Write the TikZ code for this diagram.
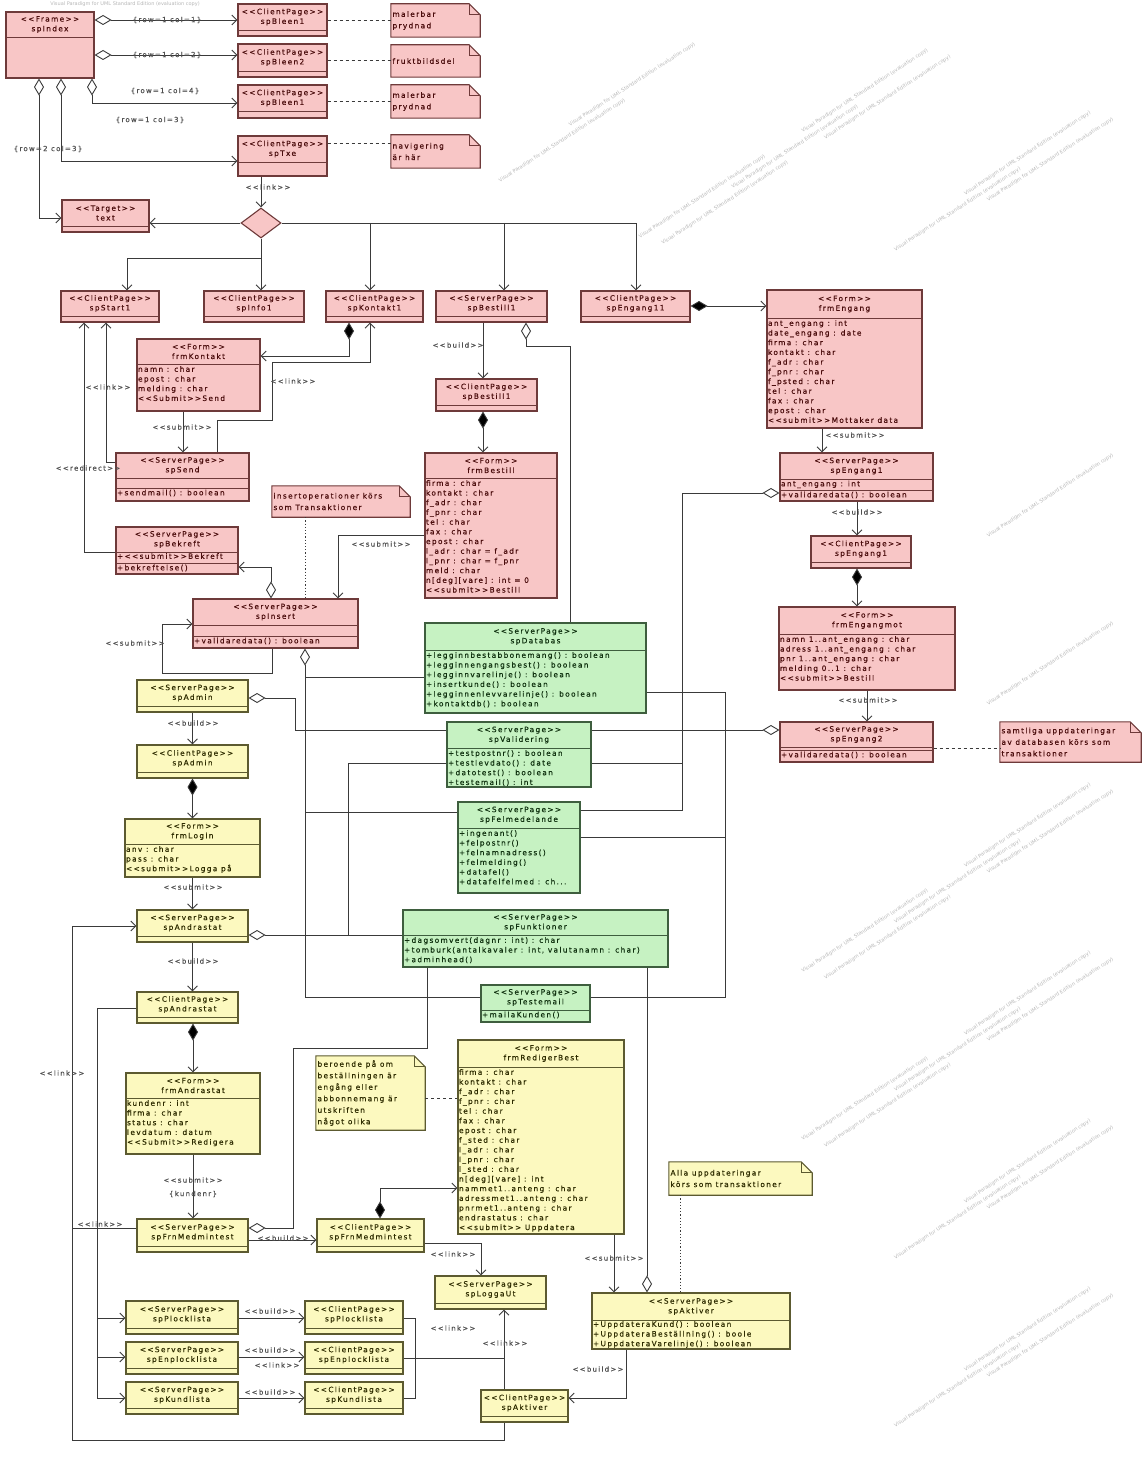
\documentclass[tikz,border=0pt]{standalone}
\usepackage{fontspec}
\setmainfont{DejaVu Sans}[LetterSpace=18, Ligatures=TeXOff, FakeBold=0.3]
\newfontfamily\wmfont{DejaVu Sans}[Ligatures=TeXOff]
\usetikzlibrary{arrows.meta,shapes.geometric,fit,calc}

\definecolor{pkfill}{HTML}{F8C6C6}
\definecolor{pkline}{HTML}{6E3A3A}
\definecolor{pktext}{HTML}{4A0C0C}
\definecolor{ylfill}{HTML}{FCF9BF}
\definecolor{ylline}{HTML}{5C5A30}
\definecolor{yltext}{HTML}{2E2C00}
\definecolor{grfill}{HTML}{C6F2C2}
\definecolor{grline}{HTML}{3E5E3E}
\definecolor{grtext}{HTML}{0E300E}
\definecolor{conn}{HTML}{3A3A3A}
\definecolor{lblcol}{HTML}{505050}

\newcommand\boxfont{\fontsize{7.4}{9.7}\selectfont}
\newcommand\notefont{\fontsize{7.4}{11.5}\selectfont}
\newcommand\lblfont{\fontsize{7}{8.5}\selectfont}
\newcommand\wmphrase{Visual Paradigm for UML Standard Edition (evaluation copy)}

% class box: name, style, x1, y1, x2, y2
\newcommand\ubox[6]{\node[#2, fit={(#3,#4) (#5,#6)}, inner sep=0pt] (#1) {};}
% header text centred at given y
\newcommand\uhead[3]{\node[hdtext] (#1-h) at (#1.north |- 0,#2) {#3};}
% compartment separator
\newcommand\usep[2]{\draw[sepline] (#1.west |- 0,#2) -- (#1.east |- 0,#2);}
% compartment content: name, suffix, top y, lines
\newcommand\uattr[4]{\node[attext, anchor=north west, xshift=1.4pt] (#1-#2) at (#1.west |- 0,#3) {#4};}
% note with folded corner: name, x1, y1, x2, y2, text
\newcommand\unote[6]{%
  \node[fit={(#2,#3) (#4,#5)}, inner sep=0pt] (#1) {};
  \draw[notebox] (#1.south west) -- (#1.north west) -- ([xshift=-11pt]#1.north east)
     -- ([yshift=-11pt]#1.north east) -- (#1.south east) -- cycle;
  \draw[noteline] ([xshift=-11pt]#1.north east) -- ([xshift=-11pt,yshift=-11pt]#1.north east)
     -- ([yshift=-11pt]#1.north east);
  \node[notetext, anchor=west, xshift=1.5pt] (#1-t) at (#1.west) {#6};}

\tikzset{
  abr/.tip={Straight Barb[length=5pt,width=10pt]},
  ahd/.tip={Diamond[fill=white,length=17pt,width=10pt]},
  afd/.tip={Diamond[fill=black,length=17pt,width=10pt]},
  hdtext/.style={align=center, inner sep=0pt, font=\boxfont},
  attext/.style={align=left, inner xsep=0pt, inner ysep=2pt, font=\boxfont},
  notetext/.style={align=left, inner sep=0pt, font=\notefont},
  lbl/.style={font=\lblfont, text=lblcol, inner sep=0.5pt},
  dashline/.style={dash pattern=on 3pt off 3pt},
  dotline/.style={dash pattern=on 1.2pt off 2pt},
  pk/.style={every node/.append style={text=pktext},
    cbox/.style={draw=pkline, fill=pkfill, line width=1.1pt},
    sepline/.style={draw=pkline, line width=0.9pt},
    notebox/.style={draw=pkline, fill=pkfill, line width=1.1pt},
    noteline/.style={draw=pkline, line width=0.8pt}},
  yl/.style={every node/.append style={text=yltext},
    cbox/.style={draw=ylline, fill=ylfill, line width=1.1pt},
    sepline/.style={draw=ylline, line width=0.9pt},
    notebox/.style={draw=ylline, fill=ylfill, line width=1.1pt},
    noteline/.style={draw=ylline, line width=0.8pt}},
  gr/.style={every node/.append style={text=grtext},
    cbox/.style={draw=grline, fill=grfill, line width=1.1pt},
    sepline/.style={draw=grline, line width=0.9pt}},
  decision/.style={diamond, draw=pkline, fill=pkfill, line width=1.1pt,
    minimum width=40pt, minimum height=30pt, inner sep=0pt},
  wm/.style={rotate=33, anchor=center, font=\wmfont\fontsize{5}{6}\selectfont,
    text=black!28, inner sep=0pt}
}

\begin{document}
\begin{tikzpicture}[x=1pt,y=-1pt]
\useasboundingbox (0,0) rectangle (1146,1463);
\fill[white] (0,0) rectangle (1146,1463);

%%% ---------------- evaluation watermark in the free areas ----------------
\node[wm, rotate=-33] (wmtop) at (125,4) {\wmphrase};
\foreach \k in {0,...,44} {
  \foreach \j in {0,...,8} {
    \pgfmathsetmacro\cx{-30-mod(\k,3)*70+(\j+0.5)*194*cos(33)}
    \pgfmathsetmacro\cy{\k*56-(\j+0.5)*194*sin(33)}
    \pgfmathtruncatemacro\wmok{
      ((\cx>561)&&(\cx<1070)&&(\cy>50)&&(\cy<236)) ||
      ((\cx>1036)&&(\cx<1070)&&(\cy>335)&&(\cy<665)) ||
      ((\cx>811)&&(\cx<1070)&&(\cy>818)&&(\cy<1110)) ||
      ((\cx>891)&&(\cx<1070)&&(\cy>1110)&&(\cy<1413)) ||
      ((\cx>708)&&(\cx<1070)&&(\cy>1402)&&(\cy<1413))}
    \ifnum\wmok=1
      \node[wm] (wm-\k-\j) at (\cx,\cy) {\wmphrase};
    \fi
  }
}

%%% ---------------- pink part: start pages ----------------
\begin{scope}[pk]
\ubox{spIndex}{cbox}{6}{12}{94}{78}
\uhead{spIndex}{24.5}{<<Frame>>\\spIndex}
\usep{spIndex}{37}

\ubox{spBleenA}{cbox}{238}{4}{327}{36}
\uhead{spBleenA}{17}{<<ClientPage>>\\spBleen1}
\usep{spBleenA}{30}
\ubox{spBleenB}{cbox}{238}{44}{327}{77}
\uhead{spBleenB}{57.5}{<<ClientPage>>\\spBleen2}
\usep{spBleenB}{71}
\ubox{spBleenC}{cbox}{238}{85}{327}{118}
\uhead{spBleenC}{98}{<<ClientPage>>\\spBleen1}
\usep{spBleenC}{111}
\ubox{spTxe}{cbox}{238}{136}{327}{176}
\uhead{spTxe}{149}{<<ClientPage>>\\spTxe}
\usep{spTxe}{162}

\unote{noteA}{391}{4}{480}{37}{malerbar\\prydnad}
\unote{noteB}{391}{45}{480}{77}{fruktbildsdel}
\unote{noteC}{391}{85}{480}{118}{malerbar\\prydnad}
\unote{noteD}{391}{135}{480}{168}{navigering\\är här}

\ubox{Target}{cbox}{62}{200}{149}{232}
\uhead{Target}{213}{<<Target>>\\text}
\usep{Target}{226}

\node[decision] (dec) at (261,223) {};

\ubox{spStart1}{cbox}{61}{291}{159}{322}
\uhead{spStart1}{303.5}{<<ClientPage>>\\spStart1}
\usep{spStart1}{316}
\ubox{spInfo1}{cbox}{204}{291}{304}{322}
\uhead{spInfo1}{303.5}{<<ClientPage>>\\spInfo1}
\usep{spInfo1}{316}
\ubox{spKontakt1}{cbox}{326}{291}{423}{322}
\uhead{spKontakt1}{303.5}{<<ClientPage>>\\spKontakt1}
\usep{spKontakt1}{316}
\ubox{spBestillS}{cbox}{436}{291}{547}{322}
\uhead{spBestillS}{303.5}{<<ServerPage>>\\spBestill1}
\usep{spBestillS}{316}
\ubox{spEngang11}{cbox}{581}{291}{690}{322}
\uhead{spEngang11}{303.5}{<<ClientPage>>\\spEngang11}
\usep{spEngang11}{316}

\ubox{frmEngang}{cbox}{767}{290}{922}{428}
\uhead{frmEngang}{304}{<<Form>>\\frmEngang}
\usep{frmEngang}{318}
\uattr{frmEngang}{a}{318}{ant\_engang : int\\date\_engang : date\\firma : char\\kontakt : char\\f\_adr : char\\f\_pnr : char\\f\_psted : char\\tel : char\\fax : char\\epost : char\\<<submit>>Mottaker data}

\ubox{frmKontakt}{cbox}{137}{339}{260}{411}
\uhead{frmKontakt}{351.5}{<<Form>>\\frmKontakt}
\usep{frmKontakt}{364}
\uattr{frmKontakt}{a}{364}{namn : char\\epost : char\\melding : char\\<<Submit>>Send}

\ubox{spSend}{cbox}{116}{453}{249}{501}
\uhead{spSend}{465.5}{<<ServerPage>>\\spSend}
\usep{spSend}{478}
\usep{spSend}{488}
\uattr{spSend}{o}{487.5}{+sendmail() : boolean}

\ubox{spBekreft}{cbox}{116}{527}{238}{574}
\uhead{spBekreft}{539.5}{<<ServerPage>>\\spBekreft}
\usep{spBekreft}{552}
\uattr{spBekreft}{a}{551}{+<<submit>>Bekreft}
\usep{spBekreft}{563}
\uattr{spBekreft}{o}{562.5}{+bekreftelse()}

\unote{noteIns}{272}{486}{410}{517}{insertoperationer körs\\som Transaktioner}

\ubox{spInsert}{cbox}{193}{599}{358}{648}
\uhead{spInsert}{612}{<<ServerPage>>\\spInsert}
\usep{spInsert}{625}
\usep{spInsert}{636}
\uattr{spInsert}{o}{635.5}{+validaredata() : boolean}

\ubox{spBestillC}{cbox}{436}{379}{537}{411}
\uhead{spBestillC}{392}{<<ClientPage>>\\spBestill1}
\usep{spBestillC}{405}

\ubox{frmBestill}{cbox}{425}{453}{557}{598}
\uhead{frmBestill}{465.5}{<<Form>>\\frmBestill}
\usep{frmBestill}{478}
\uattr{frmBestill}{a}{478}{firma : char\\kontakt : char\\f\_adr : char\\f\_pnr : char\\tel : char\\fax : char\\epost : char\\l\_adr : char = f\_adr\\l\_pnr : char = f\_pnr\\meld : char\\n[deg][vare] : int = 0\\<<submit>>Bestill}

\ubox{spEngangS}{cbox}{780}{453}{933}{501}
\uhead{spEngangS}{466}{<<ServerPage>>\\spEngang1}
\usep{spEngangS}{479}
\uattr{spEngangS}{a}{478.5}{ant\_engang : int}
\usep{spEngangS}{490}
\uattr{spEngangS}{o}{489.5}{+validaredata() : boolean}

\ubox{spEngangC}{cbox}{811}{536}{911}{568}
\uhead{spEngangC}{549}{<<ClientPage>>\\spEngang1}
\usep{spEngangC}{562}

\ubox{frmEngangmot}{cbox}{779}{607}{955}{690}
\uhead{frmEngangmot}{620.5}{<<Form>>\\frmEngangmot}
\usep{frmEngangmot}{634}
\uattr{frmEngangmot}{a}{634}{namn 1..ant\_engang : char\\adress 1..ant\_engang : char\\pnr 1..ant\_engang : char\\melding 0..1 : char\\<<submit>>Bestill}

\ubox{spEngang2}{cbox}{780}{722}{933}{762}
\uhead{spEngang2}{734.5}{<<ServerPage>>\\spEngang2}
\usep{spEngang2}{747}
\usep{spEngang2}{750}
\uattr{spEngang2}{o}{749.5}{+validaredata() : boolean}

\unote{noteSam}{1000}{722}{1141}{762}{samtliga uppdateringar\\av databasen körs som\\transaktioner}
\end{scope}

%%% ---------------- green part: shared server pages ----------------
\begin{scope}[gr]
\ubox{spDatabas}{cbox}{425}{623}{646}{713}
\uhead{spDatabas}{636.5}{<<ServerPage>>\\spDatabas}
\usep{spDatabas}{650}
\uattr{spDatabas}{o}{650}{+legginnbestabbonemang() : boolean\\+legginnengangsbest() : boolean\\+legginnvarelinje() : boolean\\+insertkunde() : boolean\\+legginnenlevvarelinje() : boolean\\+kontaktdb() : boolean}

\ubox{spValidering}{cbox}{447}{722}{591}{787}
\uhead{spValidering}{735}{<<ServerPage>>\\spValidering}
\usep{spValidering}{748}
\uattr{spValidering}{o}{748}{+testpostnr() : boolean\\+testlevdato() : date\\+datotest() : boolean\\+testemail() : int}

\ubox{spFelmed}{cbox}{458}{802}{580}{893}
\uhead{spFelmed}{815}{<<ServerPage>>\\spFelmedelande}
\usep{spFelmed}{828}
\uattr{spFelmed}{o}{828}{+ingenant()\\+felpostnr()\\+felnamnadress()\\+felmelding()\\+datafel()\\+datafelfelmed : ch...}

\ubox{spFunktioner}{cbox}{403}{910}{668}{967}
\uhead{spFunktioner}{922.5}{<<ServerPage>>\\spFunktioner}
\usep{spFunktioner}{935}
\uattr{spFunktioner}{o}{935}{+dagsomvert(dagnr : int) : char\\+tomburk(antalkavaler : int, valutanamn : char)\\+adminhead()}

\ubox{spTestemail}{cbox}{481}{985}{590}{1022}
\uhead{spTestemail}{997.5}{<<ServerPage>>\\spTestemail}
\usep{spTestemail}{1010}
\uattr{spTestemail}{o}{1009.5}{+mailaKunden()}
\end{scope}

%%% ---------------- yellow part: administration ----------------
\begin{scope}[yl]
\ubox{spAdminS}{cbox}{137}{680}{248}{712}
\uhead{spAdminS}{693}{<<ServerPage>>\\spAdmin}
\usep{spAdminS}{706}
\ubox{spAdminC}{cbox}{137}{745}{248}{778}
\uhead{spAdminC}{758.5}{<<ClientPage>>\\spAdmin}
\usep{spAdminC}{772}

\ubox{frmLogin}{cbox}{125}{819}{260}{877}
\uhead{frmLogin}{831.5}{<<Form>>\\frmLogin}
\usep{frmLogin}{844}
\uattr{frmLogin}{a}{844}{anv : char\\pass : char\\<<submit>>Logga på}

\ubox{spAndrS}{cbox}{137}{910}{248}{942}
\uhead{spAndrS}{923}{<<ServerPage>>\\spAndrastat}
\usep{spAndrS}{936}
\ubox{spAndrC}{cbox}{137}{992}{238}{1023}
\uhead{spAndrC}{1004.5}{<<ClientPage>>\\spAndrastat}
\usep{spAndrC}{1017}

\ubox{frmAndr}{cbox}{126}{1073}{260}{1154}
\uhead{frmAndr}{1085.5}{<<Form>>\\frmAndrastat}
\usep{frmAndr}{1098}
\uattr{frmAndr}{a}{1098}{kundenr : int\\firma : char\\status : char\\levdatum : datum\\<<Submit>>Redigera}

\ubox{spFrnS}{cbox}{137}{1219}{248}{1252}
\uhead{spFrnS}{1232.5}{<<ServerPage>>\\spFrnMedmintest}
\usep{spFrnS}{1246}
\ubox{spFrnC}{cbox}{317}{1219}{424}{1252}
\uhead{spFrnC}{1232.5}{<<ClientPage>>\\spFrnMedmintest}
\usep{spFrnC}{1246}

\unote{noteBer}{316}{1056}{425}{1130}{beroende på om\\beställningen är\\engång eller\\abbonnemang är\\utskriften\\något olika}

\ubox{frmRed}{cbox}{458}{1040}{624}{1234}
\uhead{frmRed}{1053.5}{<<Form>>\\frmRedigerBest}
\usep{frmRed}{1067}
\uattr{frmRed}{a}{1067}{firma : char\\kontakt : char\\f\_adr : char\\f\_pnr : char\\tel : char\\fax : char\\epost : char\\f\_sted : char\\l\_adr : char\\l\_pnr : char\\l\_sted : char\\n[deg][vare] : int\\nammet1..anteng : char\\adressmet1..anteng : char\\pnrmet1..anteng : char\\endrastatus : char\\<<submit>> Uppdatera}

\ubox{spLoggaUt}{cbox}{435}{1276}{546}{1309}
\uhead{spLoggaUt}{1289.5}{<<ServerPage>>\\spLoggaUt}
\usep{spLoggaUt}{1303}

\ubox{spAktS}{cbox}{592}{1293}{790}{1349}
\uhead{spAktS}{1306.5}{<<ServerPage>>\\spAktiver}
\usep{spAktS}{1320}
\uattr{spAktS}{o}{1319}{+UppdateraKund() : boolean\\+UppdateraBeställning() : boole\\+UppdateraVarelinje() : boolean}

\unote{noteAlla}{669}{1162}{812}{1195}{Alla uppdateringar\\körs som transaktioner}

\ubox{spAktC}{cbox}{481}{1390}{568}{1422}
\uhead{spAktC}{1403}{<<ClientPage>>\\spAktiver}
\usep{spAktC}{1416}

\ubox{spPlockS}{cbox}{126}{1301}{238}{1334}
\uhead{spPlockS}{1314.5}{<<ServerPage>>\\spPlocklista}
\usep{spPlockS}{1328}
\ubox{spEnplS}{cbox}{126}{1342}{238}{1374}
\uhead{spEnplS}{1355}{<<ServerPage>>\\spEnplocklista}
\usep{spEnplS}{1368}
\ubox{spKundS}{cbox}{126}{1382}{238}{1414}
\uhead{spKundS}{1395}{<<ServerPage>>\\spKundlista}
\usep{spKundS}{1408}

\ubox{spPlockC}{cbox}{305}{1301}{403}{1334}
\uhead{spPlockC}{1314.5}{<<ClientPage>>\\spPlocklista}
\usep{spPlockC}{1328}
\ubox{spEnplC}{cbox}{305}{1342}{403}{1374}
\uhead{spEnplC}{1355}{<<ClientPage>>\\spEnplocklista}
\usep{spEnplC}{1368}
\ubox{spKundC}{cbox}{305}{1382}{403}{1414}
\uhead{spKundC}{1395}{<<ClientPage>>\\spKundlista}
\usep{spKundC}{1408}
\end{scope}

%%% ---------------- connectors ----------------
\begin{scope}[draw=conn, line width=0.9pt]
% frame aggregation
\draw[ahd-abr] (spIndex.east |- 0,20) -- (spBleenA.west |- 0,20);
\draw[ahd-abr] (spIndex.east |- 0,55) -- (spBleenB.west |- 0,55);
\draw[ahd-abr] (spIndex.south -| 92,0) |- (spBleenC.west |- 0,103);
\draw[ahd-abr] (spIndex.south -| 61,0) |- (spTxe.west |- 0,161);
\draw[ahd-abr] (spIndex.south -| 39,0) |- (Target.west |- 0,218);
\draw[dashline] (spBleenA.east) -- (spBleenA.east -| noteA.west);
\draw[dashline] (spBleenB.east) -- (spBleenB.east -| noteB.west);
\draw[dashline] (spBleenC.east) -- (spBleenC.east -| noteC.west);
\draw[dashline] (spTxe.east |- 0,143) -- (noteD.west |- 0,143);

% navigation
\draw[-abr] (spTxe.south -| dec.north) -- (dec.north);
\draw[-abr] (dec.west) -- (Target.east |- dec.west);
\draw[-abr] (dec.south) -- (spInfo1.north -| dec.south);
\draw[-abr] (dec.south) |- (127,258) -- (spStart1.north -| 127,0);
\draw[-abr] (dec.east) -| (spEngang11.north -| 636,0);
\draw[-abr] (370,223) -- (spKontakt1.north -| 370,0);
\draw[-abr] (504,223) -- (spBestillS.north -| 504,0);

% contact
\draw[afd-abr] (spKontakt1.south -| 349,0) |- (frmKontakt.east |- 0,356);
\draw[-abr] (spSend.north -| 217,0) |- (272,420) |- (370,362) -- (spKontakt1.south -| 370,0);
\draw[-abr] (frmKontakt.south -| 183,0) -- (spSend.north -| 183,0);
\draw[-abr] (spSend.west |- 0,462) -| (spStart1.south -| 106,0);
\draw[-abr] (spBekreft.west |- 0,552) -| (spStart1.south -| 84,0);

% order
\draw[-abr] (spBestillS.south -| 483,0) -- (spBestillC.north -| 483,0);
\draw[ahd-] (spBestillS.south -| 526,0) |- (570,346) -- (spDatabas.north -| 570,0);
\draw[afd-abr] (spBestillC.south -| 483,0) -- (frmBestill.north -| 483,0);
\draw[-abr] (frmBestill.west |- 0,535) -| (spInsert.north -| 338,0);
\draw[dotline] (noteIns.south -| 305,0) -- (spInsert.north -| 305,0);
\draw[ahd-abr] (spInsert.north -| 271,0) |- (spBekreft.east |- 0,567);
\draw[-abr] (spInsert.south -| 272,0) -- (272,673) -- (162,673) -- (162,624) -- (spInsert.west |- 0,624);
\draw[ahd-] (spInsert.south -| 305,0) -- (305,997) -- (spTestemail.west |- 0,997);
\draw (305,677) -- (spDatabas.west |- 0,677);

% single order
\draw[afd-abr] (spEngang11.east |- 0,306) -- (frmEngang.west |- 0,306);
\draw[-abr] (frmEngang.south -| 822,0) -- (spEngangS.north -| 822,0);
\draw[-abr] (spEngangS.south -| 857,0) -- (spEngangC.north -| 857,0);
\draw[afd-abr] (spEngangC.south -| 857,0) -- (frmEngangmot.north -| 857,0);
\draw[-abr] (frmEngangmot.south -| 867,0) -- (spEngang2.north -| 867,0);
\draw[ahd-] (spEngangS.west |- 0,493) -| (682,810) -- (spFelmed.east |- 0,810);
\draw (682,763) -- (spValidering.east |- 0,763);
\draw[ahd-] (spEngang2.west |- 0,730) -- (spValidering.east |- 0,730);
\draw (spDatabas.east |- 0,692) -| (725,997) -- (spTestemail.east |- 0,997);
\draw (725,837) -- (spFelmed.east |- 0,837);
\draw[dashline] (spEngang2.east |- 0,748) -- (noteSam.west |- 0,748);

% administration
\draw[ahd-] (spAdminS.east |- 0,698) -| (295,730) -- (spValidering.west |- 0,730);
\draw (306,812) -- (spFelmed.west |- 0,812);
\draw (348,935) |- (spValidering.west |- 0,763);
\draw[ahd-] (spAndrS.east |- 0,935) -- (spFunktioner.west |- 0,935);
\draw[ahd-] (spFrnS.east |- 0,1228) -| (293,1048) -| (spFunktioner.south -| 427,0);
\draw[ahd-] (spAktS.north -| 647,0) -- (spFunktioner.south -| 647,0);
\draw[-abr] (spAdminS.south) -- (spAdminC.north);
\draw[afd-abr] (spAdminC.south) -- (frmLogin.north);
\draw[-abr] (frmLogin.south) -- (spAndrS.north);
\draw[-abr] (spAndrS.south) -- (spAndrC.north -| spAndrS.south);
\draw[afd-abr] (spAndrC.south -| 193,0) -- (frmAndr.north -| 193,0);
\draw[-abr] (frmAndr.south -| 193,0) -- (spFrnS.north -| 193,0);
\draw[-abr] (spFrnS.east |- 0,1240) -- (spFrnC.west |- 0,1240);
\draw[afd-abr] (spFrnC.north -| 380,0) |- (frmRed.west |- 0,1188);
\draw[dashline] (noteBer.east |- 0,1098) -- (frmRed.west |- 0,1098);
\draw[-abr] (spFrnC.east |- 0,1243) -| (spLoggaUt.north -| 481,0);
\draw[-abr] (frmRed.south -| 614,0) -- (spAktS.north -| 614,0);
\draw[dotline] (noteAlla.south -| 680,0) -- (spAktS.north -| 680,0);
\draw[-abr] (spAktS.south -| 626,0) |- (spAktC.east |- 0,1398);
\draw[-abr] (spAktC.north -| 504,0) -- (spLoggaUt.south -| 504,0);
\draw[-abr] (spAktC.south -| 504,0) |- (72,1440) |- (spAndrS.west |- 0,926);
\draw (spAndrC.west |- 0,1008) -| (97,1398);
\draw[-abr] (97,1318) -- (spPlockS.west |- 0,1318);
\draw[-abr] (97,1357) -- (spEnplS.west |- 0,1357);
\draw[-abr] (97,1398) -- (spKundS.west |- 0,1398);
\draw (72,1228) -- (spFrnS.west |- 0,1228);
\draw[-abr] (spPlockS.east |- 0,1318) -- (spPlockC.west |- 0,1318);
\draw[-abr] (spEnplS.east |- 0,1357) -- (spEnplC.west |- 0,1357);
\draw[-abr] (spKundS.east |- 0,1398) -- (spKundC.west |- 0,1398);
\draw (spPlockC.east |- 0,1318) -| (415,1398) -- (spKundC.east |- 0,1398);
\draw (spEnplC.east |- 0,1358) -- (504,1358);
\end{scope}

%%% ---------------- connector labels ----------------
\node[lbl] (r11) at (167,20) {\{row=1 col=1\}};
\node[lbl] (r12) at (167,55) {\{row=1 col=2\}};
\node[lbl] (r14) at (165,91) {\{row=1 col=4\}};
\node[lbl] (r13) at (150,120) {\{row=1 col=3\}};
\node[lbl] (r23) at (48,149) {\{row=2 col=3\}};
\node[lbl] (k1) at (268,187) {<<link>>};
\node[lbl] (k2) at (108,387) {<<link>>};
\node[lbl] (k3) at (293,381) {<<link>>};
\node[lbl] (k4) at (182,427) {<<submit>>};
\node[lbl] (k5) at (88,468) {<<redirect>>};
\node[lbl] (k6) at (458,345) {<<build>>};
\node[lbl] (k7) at (381,544) {<<submit>>};
\node[lbl] (k8) at (135,643) {<<submit>>};
\node[lbl] (k9) at (855,435) {<<submit>>};
\node[lbl] (k10) at (857,512) {<<build>>};
\node[lbl] (k11) at (868,700) {<<submit>>};
\node[lbl] (k12) at (193,723) {<<build>>};
\node[lbl] (k13) at (193,887) {<<submit>>};
\node[lbl] (k14) at (193,961) {<<build>>};
\node[lbl] (k15) at (62,1073) {<<link>>};
\node[lbl] (k16) at (193,1180) {<<submit>>};
\node[lbl] (k17) at (193,1194) {\{kundenr\}};
\node[lbl] (k18) at (100,1224) {<<link>>};
\node[lbl] (k19) at (283,1238) {<<build>>};
\node[lbl] (k20) at (453,1254) {<<link>>};
\node[lbl] (k21) at (614,1258) {<<submit>>};
\node[lbl] (k22) at (453,1328) {<<link>>};
\node[lbl] (k23) at (505,1343) {<<link>>};
\node[lbl] (k24) at (598,1369) {<<build>>};
\node[lbl] (k25) at (270,1311) {<<build>>};
\node[lbl] (k26) at (270,1350) {<<build>>};
\node[lbl] (k27) at (277,1365) {<<link>>};
\node[lbl] (k28) at (270,1392) {<<build>>};
\end{tikzpicture}
\end{document}
